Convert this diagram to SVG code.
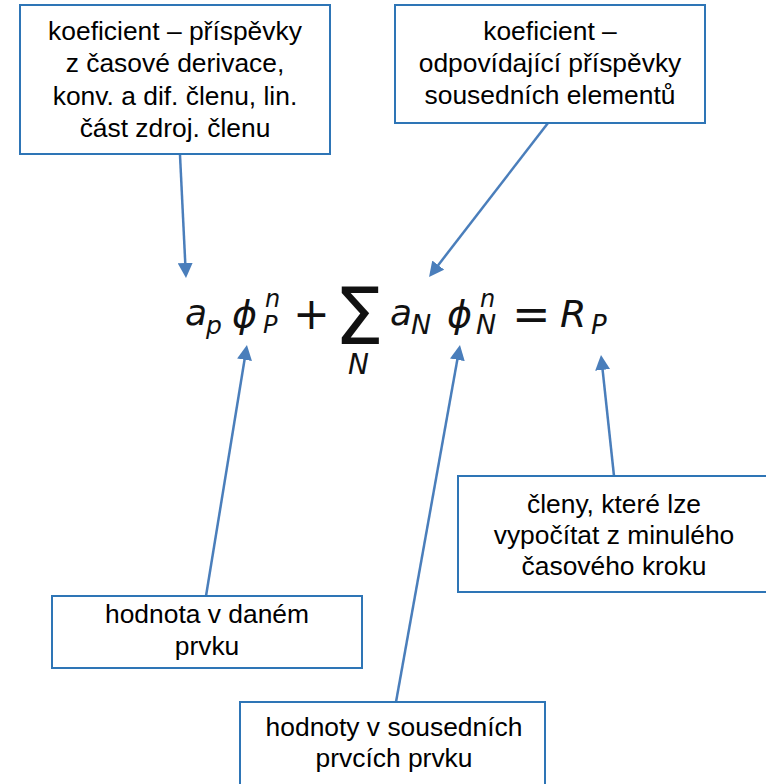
<svg xmlns="http://www.w3.org/2000/svg" width="766" height="784" viewBox="0 0 766 784">
<style>
.box{fill:#fff;stroke:#2E75B6;stroke-width:2}
.lbl{font-family:"Liberation Sans",Arial,sans-serif;font-size:26.4px;fill:#000;text-anchor:middle}
.con{stroke:#4A7EBB;stroke-width:2.5;fill:none;marker-end:url(#ah)}
.m{font-family:"DejaVu Sans",sans-serif;font-style:italic;fill:#111}
.u{font-style:normal}
</style>
<defs>
<marker id="ah" viewBox="0 0 15 15" refX="1" refY="7.5" markerWidth="15" markerHeight="15" markerUnits="userSpaceOnUse" orient="auto">
<path d="M0,0 L15,7.5 L0,15 z" fill="#4A7EBB"/>
</marker>
</defs>
<rect width="766" height="784" fill="#fff"/>
<g id="connectors">
<line class="con" x1="180" y1="155" x2="185.3" y2="264"/>
<line class="con" x1="548" y1="123" x2="437.6" y2="265.9"/>
<line class="con" x1="614" y1="476" x2="602.5" y2="368.9"/>
<line class="con" x1="206" y1="596" x2="244.7" y2="358.8"/>
<line class="con" x1="396" y1="702" x2="457.5" y2="358.8"/>
</g>
<g id="node-coef-p">
<rect class="box" x="20" y="5" width="310" height="149"/>
<text class="lbl" x="175" y="40">koeficient – příspěvky</text>
<text class="lbl" x="175" y="72">z časové derivace,</text>
<text class="lbl" x="175" y="105">konv. a dif. členu, lin.</text>
<text class="lbl" x="175" y="137">část zdroj. členu</text>
</g>
<g id="node-coef-n">
<rect class="box" x="395" y="5" width="310" height="118"/>
<text class="lbl" x="550" y="40">koeficient –</text>
<text class="lbl" x="550" y="72">odpovídající příspěvky</text>
<text class="lbl" x="550" y="104">sousedních elementů</text>
</g>
<g id="node-rhs">
<rect class="box" x="458" y="476" width="320" height="116"/>
<text class="lbl" x="614" y="513">členy, které lze</text>
<text class="lbl" x="614" y="544">vypočítat z minulého</text>
<text class="lbl" x="614" y="575">časového kroku</text>
</g>
<g id="node-value">
<rect class="box" x="52" y="596" width="310" height="72"/>
<text class="lbl" x="207" y="623">hodnota v daném</text>
<text class="lbl" x="207" y="655">prvku</text>
</g>
<g id="node-neighbours">
<rect class="box" x="240" y="702" width="305" height="100"/>
<text class="lbl" x="394" y="736">hodnoty v sousedních</text>
<text class="lbl" x="394" y="767">prvcích prvku</text>
</g>
<g id="equation">
<text class="m"><tspan x="185" y="325" font-size="36">a</tspan><tspan x="206" y="334" font-size="25">p</tspan><tspan x="232" y="327" font-size="38">ϕ</tspan><tspan x="265" y="307" font-size="24">n</tspan><tspan x="263" y="333" font-size="24">P</tspan><tspan class="u" x="293" y="329" font-size="44">+</tspan><tspan class="u" x="334" y="344" font-size="79">Σ</tspan><tspan x="348" y="374" font-size="28">N</tspan><tspan x="390" y="325" font-size="36">a</tspan><tspan x="411" y="334" font-size="27">N</tspan><tspan x="447" y="327" font-size="38">ϕ</tspan><tspan x="480" y="307" font-size="24">n</tspan><tspan x="476" y="334" font-size="27">N</tspan><tspan class="u" x="512" y="330" font-size="46">=</tspan><tspan x="560" y="327" font-size="38">R</tspan><tspan x="591" y="334" font-size="26">P</tspan></text>
</g>
</svg>
